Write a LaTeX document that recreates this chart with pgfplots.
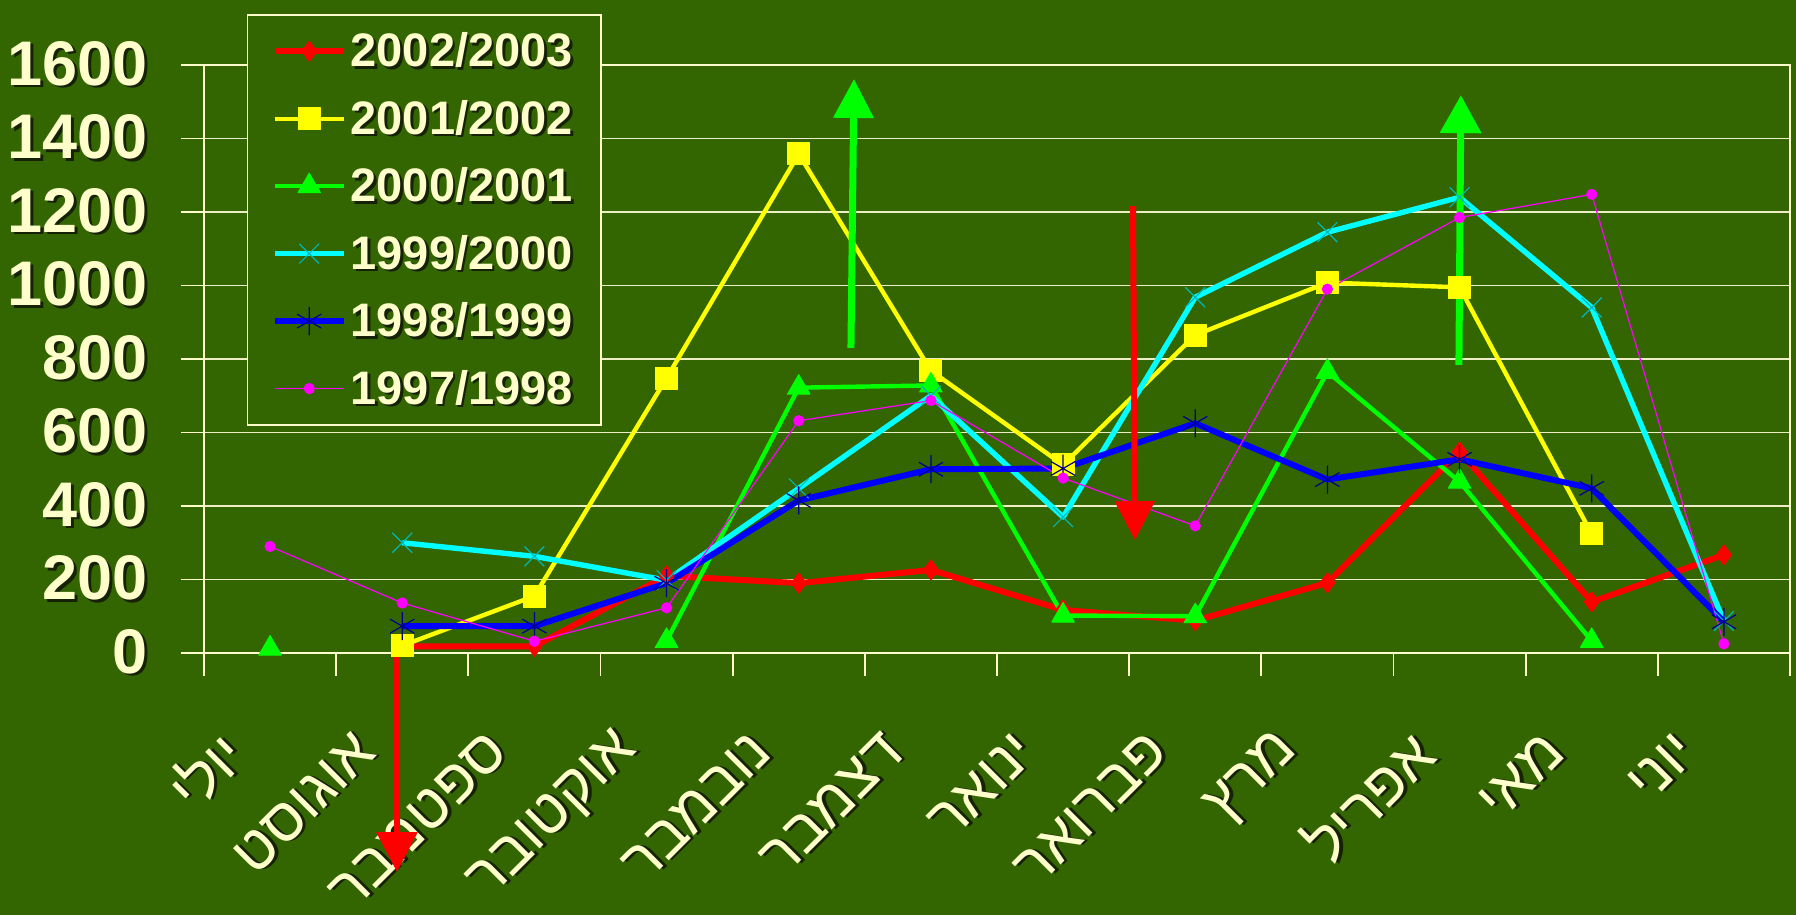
\documentclass[border=0pt]{standalone}
\usepackage{fontspec}
\setmainfont{Liberation Sans}
\newfontfamily\hebfont[Script=Hebrew]{Liberation Sans}
\usepackage{pgfplots}
\pgfplotsset{compat=1.18}
\usetikzlibrary{arrows.meta}
\TeXXeTstate=1
\definecolor{bg}{HTML}{336600}
\definecolor{cream}{HTML}{FFFFCC}
\definecolor{gridc}{HTML}{EEEEC4}
\definecolor{shadowc}{HTML}{152208}
\definecolor{cRed}{HTML}{FF0000}
\definecolor{cYel}{HTML}{FFFF00}
\definecolor{cGrn}{HTML}{00FF00}
\definecolor{cCyn}{HTML}{00FFFF}
\definecolor{cCynM}{HTML}{00B8B8}
\definecolor{cBlu}{HTML}{0000FF}
\definecolor{cBluM}{HTML}{000090}
\definecolor{cMag}{HTML}{FF00FF}
\newcommand\sh[1]{\rlap{\kern1.3pt\raisebox{-1.3pt}{\color{shadowc}#1}}#1}
\newcommand\heb[1]{\sh{\hebfont\beginR #1\endR}}
\begin{document}
\begin{tikzpicture}
\fill[bg] (0,0) rectangle (898pt,457.5pt);
\useasboundingbox (0,0) rectangle (898pt,457.5pt);
\begin{axis}[
  at={(102pt,131pt)}, anchor=south west,
  scale only axis, width=793pt, height=294pt,
  xmin=-0.5, xmax=11.5, ymin=0, ymax=1600,
  clip=false,
  unbounded coords=jump,
  axis line style={cream, line width=0.9pt},
  ymajorgrids,
  major grid style={gridc, line width=0.9pt},
  tick pos=left,
  tick align=outside,
  major tick length=11.5pt,
  tick style={cream, line width=0.9pt},
  ytick={0,200,...,1600},
  yticklabels={\sh{0},\sh{200},\sh{400},\sh{600},\sh{800},\sh{1000},\sh{1200},\sh{1400},\sh{1600}},
  yticklabel style={font=\fontsize{31.5}{31.5}\bfseries\selectfont, text=cream, anchor=east, inner sep=0pt, xshift=-16.5pt},
  xtick={-0.5,0.5,...,11.5},
  xticklabels={},
  extra x ticks={0,1,...,11},
  extra x tick labels={\heb{יולי},\heb{אוגוסט},\heb{ספטמבר},\heb{אוקטובר},\heb{נובמבר},\heb{דצמבר},\heb{ינואר},\heb{פברואר},\heb{מרץ},\heb{אפריל},\heb{מאי},\heb{יוני}},
  extra x tick style={major tick length=0pt, xticklabel style={xshift=-18pt, yshift=-45pt, rotate=45, anchor=east, inner sep=0pt, font=\fontsize{30}{30}\selectfont, text=cream}},
  legend style={at={(0.0271,1.0867)}, anchor=north west, draw=cream, line width=0.75pt, fill=bg,
    font=\fontsize{23.5}{23.5}\bfseries\selectfont, text=cream, row sep=11.2pt,
    inner xsep=12pt, inner ysep=7pt, nodes={inner sep=2pt}},
  legend cell align=left,
  legend image code/.code={\draw[mark repeat=2,mark phase=2] plot coordinates {(0pt,0pt) (17.25pt,0pt) (34.5pt,0pt)};},
  every axis plot/.append style={line join=round},
]
\addplot[cRed, line width=3pt, mark=diamond*, mark size=5pt, mark options={solid, line width=0.5pt, fill=cRed}]
  coordinates {(1,18)(2,18)(3,210)(4,190)(5,226)(6,117)(7,88)(8,191)(9,547)(10,139)(11,267)};
\addlegendentry{\sh{2002/2003}}
\addplot[cYel, line width=2.2pt, mark=square*, mark size=5.5pt, mark options={solid, line width=0.5pt, fill=cYel}]
  coordinates {(1,20)(2,155)(3,748)(4,1358)(5,768)(6,512)(7,865)(8,1008)(9,995)(10,324)};
\addlegendentry{\sh{2001/2002}}
\addplot[cGrn, line width=2.2pt, mark=triangle*, mark size=6.5pt, mark options={solid, line width=0.5pt, fill=cGrn}]
  coordinates {(0,12)(1,nan)(2,nan)(3,33)(4,722)(5,728)(6,102)(7,100)(8,765)(9,466)(10,33)};
\addlegendentry{\sh{2000/2001}}
\addplot[cCyn, line width=2.7pt, mark=x, mark size=7pt, mark options={solid, line width=0.6pt, draw=cCynM}]
  coordinates {(1,300)(2,263)(3,198)(4,448)(5,700)(6,370)(7,968)(8,1145)(9,1240)(10,940)(11,87)};
\addlegendentry{\sh{1999/2000}}
\addplot[cBlu, line width=3pt, mark=asterisk, mark size=7pt, mark options={solid, line width=0.6pt, draw=cBluM}]
  coordinates {(1,73)(2,73)(3,190)(4,415)(5,500)(6,502)(7,625)(8,472)(9,527)(10,448)(11,85)};
\addlegendentry{\sh{1998/1999}}
\addplot[cMag, line width=0.6pt, mark=*, mark size=2.5pt, mark options={solid, fill=cMag, draw=cMag}]
  coordinates {(0,290)(1,136)(2,32)(3,123)(4,632)(5,687)(6,476)(7,346)(8,990)(9,1185)(10,1248)(11,25)};
\addlegendentry{\sh{1997/1998}}
\draw[cRed, line width=3.2pt, -{Triangle[width=20pt,length=20pt]}] (axis cs:0.96,16) -- (axis cs:0.96,-596);
\draw[cGrn, line width=3.5pt, -{Triangle[width=19.5pt,length=19.5pt]}] (axis cs:4.395,830) -- (axis cs:4.418,1562);
\draw[cRed, line width=3pt, -{Triangle[width=19.5pt,length=19.5pt]}] (axis cs:6.529,1216) -- (axis cs:6.544,307);
\draw[cGrn, line width=3.5pt, -{Triangle[width=20pt,length=19pt]}] (axis cs:8.995,784) -- (axis cs:9.01,1518);
\end{axis}
\end{tikzpicture}
\end{document}
